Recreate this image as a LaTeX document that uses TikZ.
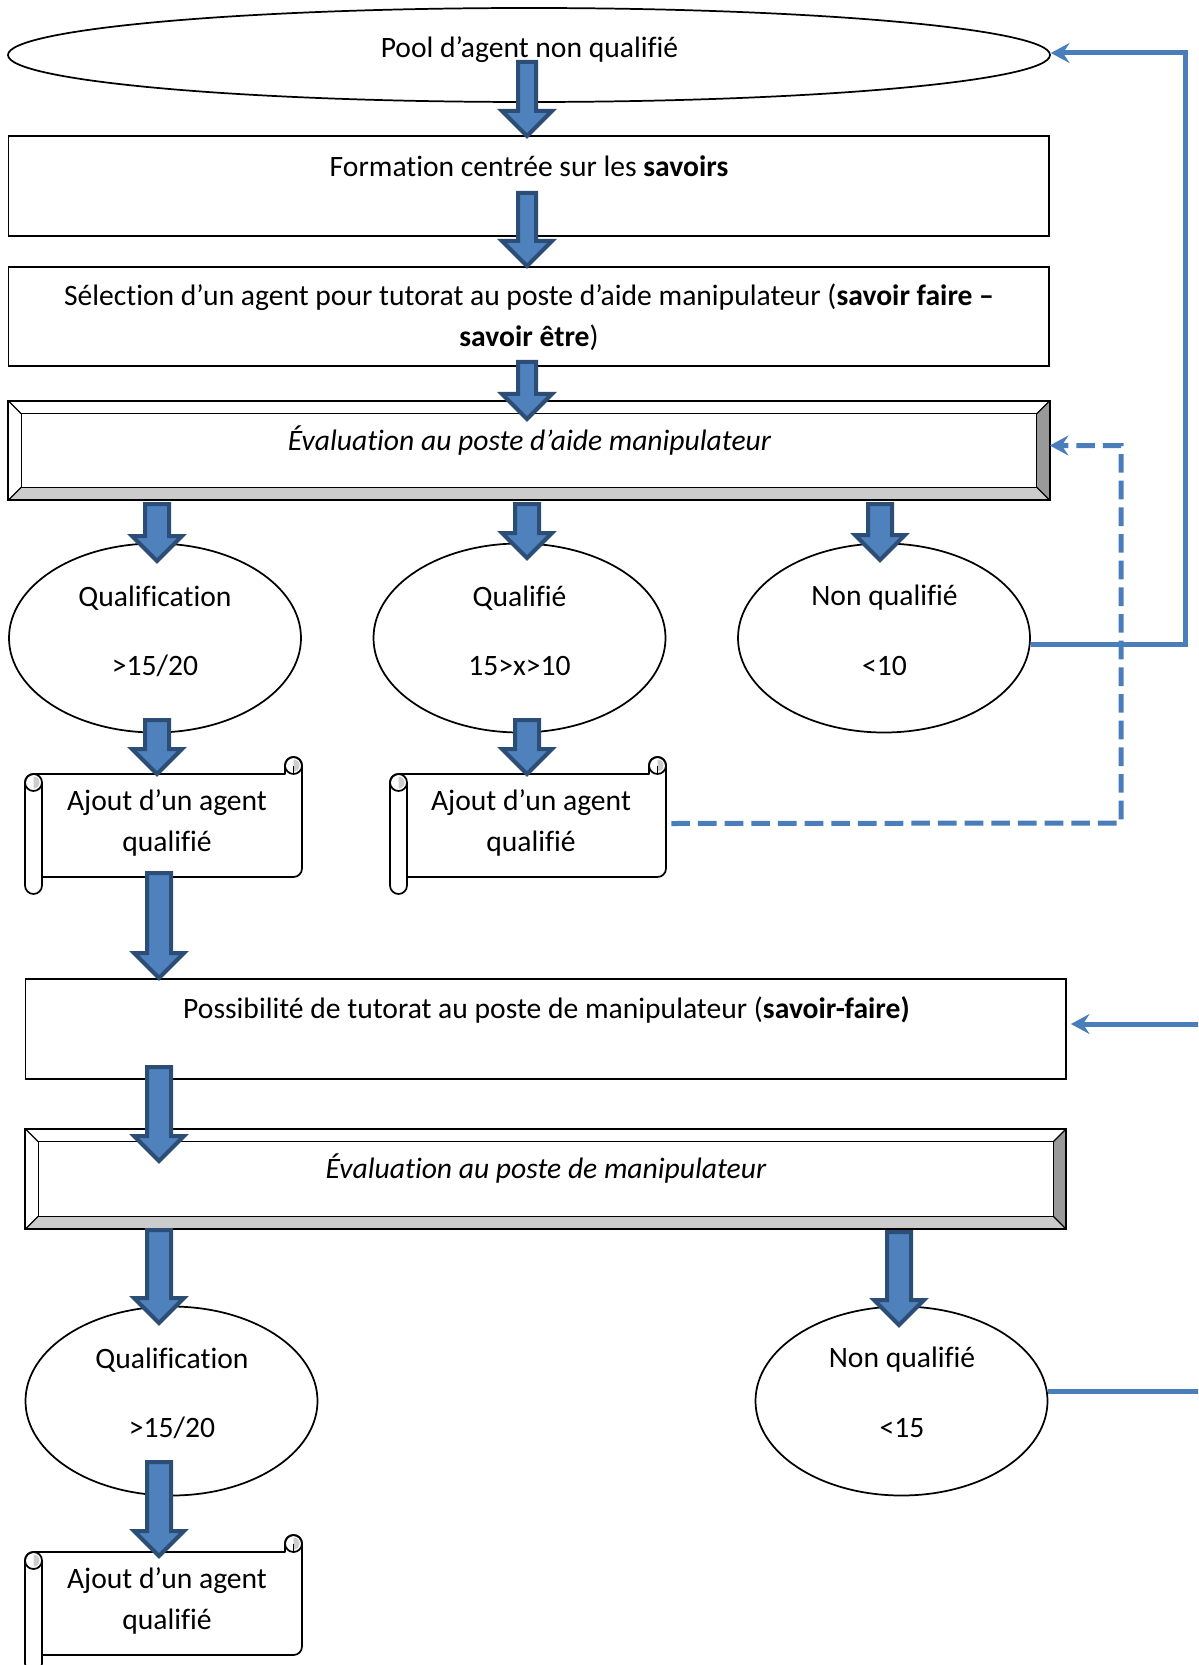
\documentclass[tikz,border=0pt]{standalone}
\usepackage{fontspec}
\setmainfont{Carlito}[Ligatures=NoCommon]
\usetikzlibrary{arrows.meta,calc,fit,shapes.geometric}
\definecolor{lineblue}{HTML}{4A7EBB}
\definecolor{arrfill}{HTML}{4F81BD}
\definecolor{arrdraw}{HTML}{2C4D75}
\definecolor{bevlight}{HTML}{CCCCCC}
\definecolor{bevdark}{HTML}{999999}
\definecolor{curlgray}{HTML}{CDCDCD}

% block arrow: #1 = x, #2 = top y, #3 = tip y, #4 = shaft half width
\newcommand\blockarrow[4]{%
  \draw[blockarr] (#1-#4,#2) -- (#1+#4,#2) -- (#1+#4,#3-25) -- (#1+25,#3-25) -- (#1,#3)
     -- (#1-25,#3-25) -- (#1-#4,#3-25) -- cycle;}

% bevel frame around a named node #1
\newcommand\bevelframe[1]{%
  \fill[white] (#1.north west) rectangle (#1.south east);
  \fill[bevlight] (#1.south west) -- (#1.south east) -- ($(#1.south east)+(-13,-13)$)
     -- ($(#1.south west)+(13,-13)$) -- cycle;
  \fill[bevdark] (#1.north east) -- (#1.south east) -- ($(#1.south east)+(-13,-13)$)
     -- ($(#1.north east)+(-13,13)$) -- cycle;
  \draw[line width=0.9pt] ($(#1.north west)+(13,13)$) rectangle ($(#1.south east)+(-13,-13)$);
  \draw[line width=0.9pt] (#1.north west) -- ++(13,13) (#1.north east) -- ++(-13,13)
     (#1.south east) -- ++(-13,-13) (#1.south west) -- ++(13,-13);
  \draw[line width=1.8pt] (#1.north west) rectangle (#1.south east);}

% horizontal scroll: #1 name, #2 X1, #3 Y1, #4 X2, #5 Y2
\newcommand\scrollshape[5]{%
  \node[fit={(#2,#3) (#4,#5)}, inner sep=0pt] (#1) {};
  \draw[scrollline, fill=white] (#2+8.5,#3+17) -- (#4-17,#3+17) -- (#4-17,#3+8.5)
     arc[start angle=180, end angle=360, radius=8.5] -- (#4,#5-25.5)
     arc[start angle=0, end angle=90, radius=8.5] -- (#2+17,#5-17) -- (#2+17,#5-8.5)
     arc[start angle=0, end angle=180, radius=8.5] -- (#2,#3+25.5)
     arc[start angle=180, end angle=270, radius=8.5] -- cycle;
  \fill[curlgray] (#2+8.5,#3+19.5) arc[start angle=270, end angle=450, radius=6];
  \draw[scrollline] (#2+8.5,#3+25.5) circle[radius=8.5];
  \draw[scrollline] (#2+17,#3+25.5) -- (#2+17,#5-8.5);
  \fill[curlgray] (#4-8.5,#3+2.5) arc[start angle=270, end angle=450, radius=6];
  \draw[scrollline] (#4-8.5,#3+8.5) circle[radius=8.5];
  \draw[scrollline] (#4-8.5,#3+8.5) -- (#4-8.5,#3+17);}

\begin{document}
\begin{tikzpicture}[x=0.75pt,y=-0.75pt,
  font=\fontsize{22.2}{30.75}\selectfont,
  box/.style={draw, line width=1.3pt, inner sep=0pt},
  ell/.style={draw, ellipse, line width=1.3pt, inner sep=0pt, minimum width=219pt, minimum height=141.75pt},
  txt/.style={inner sep=0pt, align=center},
  blockarr/.style={fill=arrfill, draw=arrdraw, line width=3pt, line join=miter},
  scrollline/.style={line width=1.3pt, line join=round},
  conn/.style={draw=lineblue, line width=3.75pt, -{Stealth[length=14pt,width=15pt,inset=5pt]}},
  dashconn/.style={conn, dash pattern=on 14pt off 6pt}]
\useasboundingbox (0,0) rectangle (1198,1665);
\clip (0,0) rectangle (1198,1665);

% top ellipse and boxes
\node[draw, ellipse, line width=1.3pt, inner sep=0pt, minimum width=781.5pt, minimum height=70.5pt] (pool) at (529,55) {};
\node[txt] (tpool) at (529.5,50) {Pool d’agent non qualifié};

\node[box, fit={(8.5,136) (1049,236)}] (f1) {};
\node[txt] (tf1) at (529,166) {Formation centrée sur les \textbf{savoirs}};

\node[box, fit={(8.5,267) (1049,366)}] (f2) {};
\node[txt] (tf2) at (529,317) {Sélection d’un agent pour tutorat au poste d’aide manipulateur (\textbf{savoir faire –}\\\textbf{savoir être})};

\node[inner sep=0pt, fit={(8.5,401) (1049.5,500)}] (ev1) {};
\bevelframe{ev1}
\node[txt] (tev1) at (529.5,441) {\itshape Évaluation au poste d’aide manipulateur};

% first row of ellipses
\node[ell] (e1) at (155,638) {};
\node[ell] (e2) at (519.5,638) {};
\node[ell] (e3) at (884,638) {};
\node[txt] (te1a) at (155,598) {Qualification};
\node[txt] (te1b) at (155,666) {>15/20};
\node[txt] (te2a) at (519.5,598) {Qualifié};
\node[txt] (te2b) at (519.5,666) {15>x>10};
\node[txt] (te3a) at (884.5,598) {Non qualifié};
\node[txt] (te3b) at (884.5,666) {<10};

% scrolls
\scrollshape{s1}{25}{757}{302}{894}
\scrollshape{s2}{390}{757}{666}{894}
\node[txt] (ts1) at (167,823) {Ajout d’un agent\\qualifié};
\node[txt] (ts2) at (531,823) {Ajout d’un agent\\qualifié};

% second part
\node[box, fit={(25.5,979) (1066,1079)}] (p3) {};
\node[txt] (tp3) at (546.5,1010) {Possibilité de tutorat au poste de manipulateur (\textbf{savoir-faire)}};

\node[inner sep=0pt, fit={(25.5,1129) (1066,1229)}] (ev2) {};
\bevelframe{ev2}
\node[txt] (tev2) at (546,1169) {\itshape Évaluation au poste de manipulateur};

\node[ell] (e4) at (171.5,1401) {};
\node[ell] (e5) at (901.5,1401) {};
\node[txt] (te4a) at (172,1360) {Qualification};
\node[txt] (te4b) at (172,1428) {>15/20};
\node[txt] (te5a) at (902,1360) {Non qualifié};
\node[txt] (te5b) at (902,1428) {<15};

\scrollshape{s3}{25}{1535}{302}{1672}
\node[txt] (ts3) at (167,1601) {Ajout d’un agent\\qualifié};

% block arrows
\blockarrow{527}{62}{136}{9}
\blockarrow{527}{193}{266}{9}
\blockarrow{527}{362}{419}{9}
\blockarrow{157}{504}{561}{12}
\blockarrow{527}{504}{558}{12}
\blockarrow{880}{504}{560}{12}
\blockarrow{157}{720}{774}{12}
\blockarrow{527}{720}{774}{12}
\blockarrow{159}{873}{978}{12}
\blockarrow{159}{1067}{1161}{12}
\blockarrow{159}{1230}{1323}{12}
\blockarrow{899}{1232}{1325}{12}
\blockarrow{159}{1462}{1556}{12}

% connectors
\draw[conn] ($(e3.east)+(0,6)$) -- (1185,644) |- ($(pool.east)+(0,-2)$);
\draw[dashconn] ($(s2.east)+(5,-2)$) -- (1121,823) |- ($(ev1.east)+(0,-5)$);
\draw[conn] ($(e5.east)+(0,-10)$) -- (1220,1391) |- ($(p3.east)+(4,-5)$);
\end{tikzpicture}
\end{document}
